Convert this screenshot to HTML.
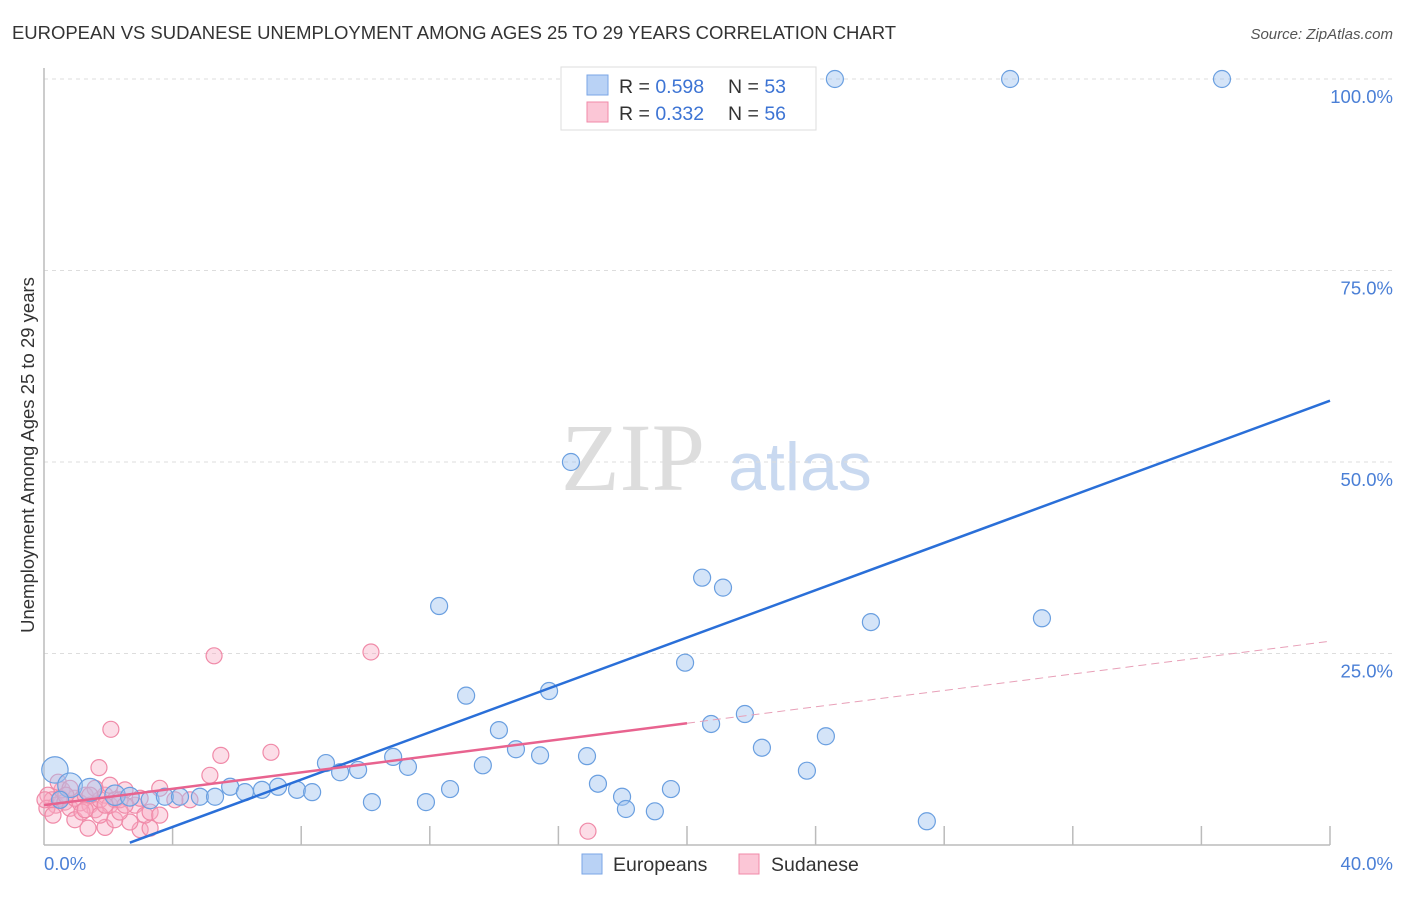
<!DOCTYPE html>
<html><head><meta charset="utf-8"><style>
body{margin:0;background:#fff;font-family:"Liberation Sans",sans-serif}
svg text{font-family:"Liberation Sans",sans-serif}
</style></head><body>
<svg id="c" width="1406" height="892">
<text x="12" y="39" font-size="18.5" fill="#333" textLength="884">EUROPEAN VS SUDANESE UNEMPLOYMENT AMONG AGES 25 TO 29 YEARS CORRELATION CHART</text>
<text x="1393" y="39" font-size="15" fill="#555" font-style="italic" text-anchor="end">Source: ZipAtlas.com</text>
<text x="633" y="490" font-size="96" fill="#ddd" text-anchor="middle" style="font-family:'Liberation Serif',serif">ZIP</text>
<text x="800" y="490" font-size="68" fill="#c9d9f0" text-anchor="middle">atlas</text>
<g id="grid"></g><g id="axes"></g><g id="marks"></g>
<text transform="translate(34,455) rotate(-90)" font-size="18.5" fill="#333" text-anchor="middle">Unemployment Among Ages 25 to 29 years</text>
<text x="44" y="870" font-size="18.5" fill="#4a7fd6">0.0%</text>
<text x="1393" y="870" font-size="18.5" fill="#4a7fd6" text-anchor="end">40.0%</text>
<g>
<rect x="561" y="67" width="255" height="63" fill="#fff" stroke="#ddd"/>
<rect x="587" y="75" width="21" height="20" fill="#b9d2f5" stroke="#7aa6e6"/>
<rect x="587" y="102" width="21" height="20" fill="#fbc6d6" stroke="#f08aa8"/>
<text x="619" y="93" font-size="19.5" fill="#333">R = <tspan fill="#3d74d4">0.598</tspan><tspan x="728">N = </tspan><tspan fill="#3d74d4">53</tspan></text>
<text x="619" y="120" font-size="19.5" fill="#333">R = <tspan fill="#3d74d4">0.332</tspan><tspan x="728">N = </tspan><tspan fill="#3d74d4">56</tspan></text>
</g>
<g>
<rect x="582" y="854" width="20" height="20" fill="#b9d2f5" stroke="#7aa6e6"/>
<text x="613" y="871" font-size="19.5" fill="#333">Europeans</text>
<rect x="739" y="854" width="20" height="20" fill="#fbc6d6" stroke="#f08aa8"/>
<text x="771" y="871" font-size="19.5" fill="#333">Sudanese</text>
</g>
</svg>
<script>
const yTicks=[25,50,75,100];
const yTickLabels=["25.0%","50.0%","75.0%","100.0%"];
const xTicks=[4,8,12,16,20,24,28,32,36,40];
const euroX=[0.34,0.81,1.43,2.21,2.67,3.30,3.76,4.23,4.85,5.32,5.79,6.25,6.78,7.28,7.87,8.34,8.77,9.21,9.77,10.2,10.86,11.32,11.88,12.29,12.63,13.13,13.65,14.15,14.68,15.43,15.71,16.39,16.89,17.23,17.98,18.1,19.0,19.5,19.94,20.47,20.75,21.12,21.8,22.33,23.73,24.32,24.6,25.72,27.46,30.05,31.04,36.64,0.5];
const euroY=[9.8,7.8,7.2,6.5,6.3,5.9,6.3,6.3,6.3,6.3,7.6,6.9,7.2,7.6,7.2,6.9,10.7,9.5,9.8,5.6,11.5,10.2,5.6,31.2,7.3,19.5,10.4,15.0,12.5,11.7,20.1,50.0,11.6,8.0,6.3,4.7,4.4,7.3,23.8,34.9,15.8,33.6,17.1,12.7,9.7,14.2,100,29.1,3.1,100,29.6,100,5.9];
const euroW=[1.55,1.45,1.35,1.2,1.1,1.05];
const sudX=[5.29,10.17,2.08,5.5,7.06,5.16,1.71,3.6,4.54,16.92,2.99,3.3,1.9,1.37,2.67,2.2,0.12,0.25,0.37,0.5,0.65,0.81,0.96,1.12,1.28,1.43,1.59,1.74,1.9,2.05,2.21,2.36,2.52,0.96,1.18,0.56,0.09,2.83,3.14,0.44,0.81,1.59,2.36,2.05,0.28,1.74,3.3,2.99,0.03,1.28,0.68,1.9,2.52,3.6,4.07,1.43];
const sudY=[24.7,25.2,15.1,11.7,12.1,9.1,10.1,7.4,5.9,1.8,2.0,2.2,2.3,2.2,3.0,3.3,6.5,5.9,5.2,6.1,5.6,4.8,6.1,5.5,6.5,5.2,4.6,5.9,6.5,5.2,5.9,4.3,7.2,3.3,4.3,7.2,4.8,5.2,3.9,8.2,7.4,7.4,5.9,7.8,3.9,3.9,4.3,6.1,5.9,4.6,6.5,5.2,5.2,3.9,5.9,6.5];
const euroLine=[2.67,0.3,40,58];
const sudLine=[0,5.2,20,15.9,40,26.6];
const X=v=>44+v*32.15, Y=v=>845-v*7.66;
const NS="http://www.w3.org/2000/svg";
function mk(t,a,p){const e=document.createElementNS(NS,t);for(const k in a)e.setAttribute(k,a[k]);document.getElementById(p).appendChild(e);return e;}
yTicks.forEach((v,i)=>{
 const l=mk('line',{x1:44,x2:1393,y1:Y(v),y2:Y(v),stroke:'#ddd','stroke-dasharray':'4,4'},'grid');
 
 
 const t=mk('text',{x:1393,y:Y(v)+24,'font-size':18.5,fill:'#4a7fd6','text-anchor':'end'},'grid');
 t.textContent=yTickLabels[i];
 
 
});
const ax=mk('line',{x1:44,x2:44,y1:68,y2:845,stroke:'#bbb','stroke-width':1.5},'axes');


const bx=mk('line',{x1:44,x2:1330,y1:845,y2:845,stroke:'#bbb','stroke-width':1.5},'axes');


xTicks.forEach(v=>{const t=mk('line',{x1:X(v),x2:X(v),y1:826,y2:845,stroke:'#bbb','stroke-width':1.5},'axes');
 
 });
sudX.forEach((v,i)=>{const c=mk('circle',{cx:X(v),cy:Y(sudY[i]),r:8,fill:'rgba(248,170,195,0.4)',stroke:'#f08aa8','stroke-width':1.2},'marks');
 
 });
euroX.forEach((v,i)=>{const c=mk('circle',{cx:X(v),cy:Y(euroY[i]),r:8.5*(euroW[i]||1),fill:'rgba(160,195,240,0.45)',stroke:'#6a9fe0','stroke-width':1.2},'marks');
 
 });
const bl=mk('line',{x1:X(euroLine[0]),y1:Y(euroLine[1]),x2:X(euroLine[2]),y2:Y(euroLine[3]),stroke:'#2a6fd8','stroke-width':2.5},'marks');


const pl=mk('line',{x1:X(sudLine[0]),y1:Y(sudLine[1]),x2:X(sudLine[2]),y2:Y(sudLine[3]),stroke:'#e8638f','stroke-width':2.5},'marks');


const pd=mk('line',{x1:X(sudLine[2]),y1:Y(sudLine[3]),x2:X(sudLine[4]),y2:Y(sudLine[5]),stroke:'#e8a0b8','stroke-width':1,'stroke-dasharray':'8,5'},'marks');


</script>
</body></html>
